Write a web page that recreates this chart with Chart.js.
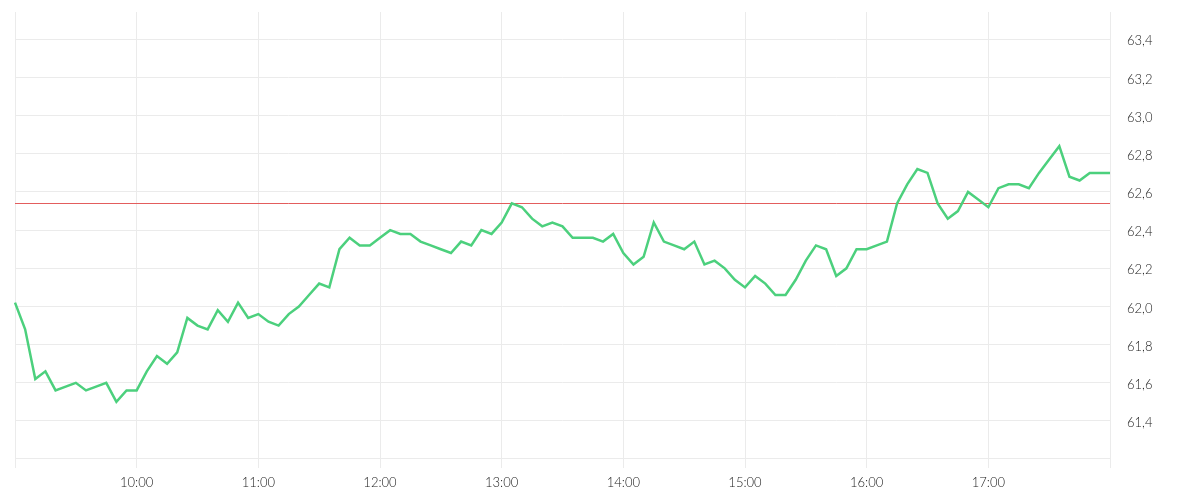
<!DOCTYPE html>
<html>
<head>
<meta charset="utf-8">
<script src="https://cdn.jsdelivr.net/npm/chart.js@4"></script>
<style>
  html, body { margin: 0; padding: 0; background: #fff; }
  #wrap { width: 1200px; height: 500px; position: relative; }
</style>
</head>
<body>
<div id="wrap"><canvas id="chartPrice"></canvas></div>
<script>
// 5-minute quotes, 09:00 -> 18:00
const startMinute = 9 * 60;
const stepMinutes = 5;
const prices = [
  62.02, 61.88, 61.62, 61.66, 61.56, 61.58, 61.60, 61.56, 61.58, 61.60,
  61.50, 61.56, 61.56, 61.66, 61.74, 61.70, 61.76, 61.94, 61.90, 61.88,
  61.98, 61.92, 62.02, 61.94, 61.96, 61.92, 61.90, 61.96, 62.00, 62.06,
  62.12, 62.10, 62.30, 62.36, 62.32, 62.32, 62.36, 62.40, 62.38, 62.38,
  62.34, 62.32, 62.30, 62.28, 62.34, 62.32, 62.40, 62.38, 62.44, 62.54,
  62.52, 62.46, 62.42, 62.44, 62.42, 62.36, 62.36, 62.36, 62.34, 62.38,
  62.28, 62.22, 62.26, 62.44, 62.34, 62.32, 62.30, 62.34, 62.22, 62.24,
  62.20, 62.14, 62.10, 62.16, 62.12, 62.06, 62.06, 62.14, 62.24, 62.32,
  62.30, 62.16, 62.20, 62.30, 62.30, 62.32, 62.34, 62.54, 62.64, 62.72,
  62.70, 62.54, 62.46, 62.50, 62.60, 62.56, 62.52, 62.62, 62.64, 62.64,
  62.62, 62.70, 62.77, 62.84, 62.68, 62.66, 62.70, 62.70, 62.70
];
const previousClose = 62.54;
const hourTicks = ['10:00', '11:00', '12:00', '13:00', '14:00', '15:00', '16:00', '17:00'];
const gridHours = ['09:00', '10:00', '11:00', '12:00', '13:00', '14:00', '15:00', '16:00', '17:00', '18:00'];
const yTicks = [61.4, 61.6, 61.8, 62.0, 62.2, 62.4, 62.6, 62.8, 63.0, 63.2, 63.4];
const yMin = 61.206;
const yMax = 63.543;

function pad(n) { return (n < 10 ? '0' : '') + n; }
const times = prices.map((p, i) => {
  const m = startMinute + i * stepMinutes;
  return pad(Math.floor(m / 60)) + ':' + pad(m % 60);
});

const gridColor = '#ebebeb';
const textColor = '#222';
const tickFont = { family: 'Lato', size: 13, weight: '300' };

const refLine = {
  id: 'refLine',
  beforeDatasetsDraw(chart) {
    const { ctx, chartArea, scales } = chart;
    const y = Math.round(scales.y.getPixelForValue(previousClose)) + 0.5;
    ctx.save();
    ctx.strokeStyle = '#e35d5d';
    ctx.lineWidth = 1;
    ctx.beginPath();
    ctx.moveTo(chartArea.left, y);
    ctx.lineTo(chartArea.right, y);
    ctx.stroke();
    ctx.restore();
  }
};

new Chart(document.getElementById('chartPrice').getContext('2d'), {
  type: 'line',
  data: {
    labels: times,
    datasets: [{
      data: prices,
      borderColor: '#4cd07d',
      borderWidth: 2.5,
      pointRadius: 0,
      tension: 0,
      fill: false
    }]
  },
  options: {
    responsive: true,
    maintainAspectRatio: false,
    animation: false,
    layout: { padding: { left: 15, top: 12, right: 0, bottom: 0 } },
    plugins: { legend: { display: false }, tooltip: { enabled: false } },
    scales: {
      x: {
        offset: false,
        grid: {
          color: (c) => gridHours.includes(times[c.index]) ? gridColor : 'transparent',
          tickColor: (c) => gridHours.includes(times[c.index]) ? gridColor : 'transparent',
          tickLength: 10
        },
        border: { display: true, color: gridColor },
        ticks: {
          autoSkip: false,
          maxRotation: 0,
          padding: 7,
          color: textColor,
          font: tickFont,
          callback: (v, i) => hourTicks.includes(times[i]) ? times[i] : ''
        },
        afterFit: (s) => { s.height = 42; s.paddingLeft = 0; s.paddingRight = 0; }
      },
      y: {
        position: 'right',
        min: yMin,
        max: yMax,
        afterBuildTicks: (s) => { s.ticks = yTicks.map((v) => ({ value: v })); },
        grid: { color: gridColor, drawTicks: false },
        border: { display: false },
        ticks: {
          padding: 17,
          labelOffset: 2,
          color: textColor,
          font: tickFont,
          callback: (v) => Number(v).toFixed(1).replace('.', ',')
        },
        afterFit: (s) => { s.width = 90; s.paddingTop = 0; s.paddingBottom = 0; }
      }
    }
  },
  plugins: [refLine]
});
</script>
</body>
</html>
